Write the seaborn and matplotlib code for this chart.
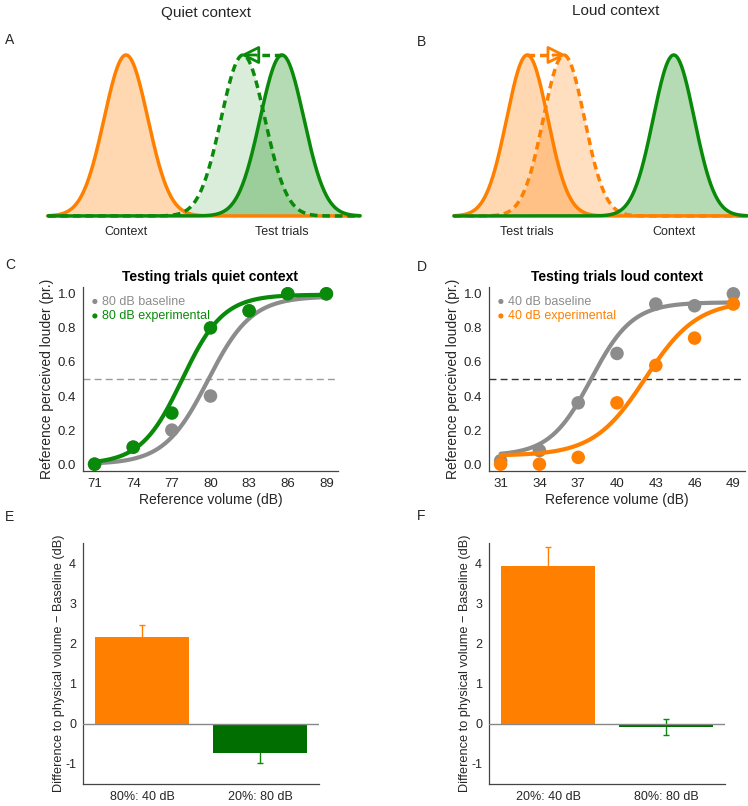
import numpy as np
import seaborn as sns
import matplotlib.pyplot as plt

# schematic distributions (A, B), centres in dB
quiet_context_mean = 40
quiet_test_mean = 80
quiet_shifted_mean = 70
loud_test_mean = 40
loud_shifted_mean = 50
loud_context_mean = 80
dist_sd = 5.6

# psychometric data (C, D)
quiet_volumes = [71, 74, 77, 80, 83, 86, 89]
quiet_baseline = [0.0, 0.1, 0.2, 0.4, 0.9, 1.0, 1.0]
quiet_experimental = [0.0, 0.1, 0.3, 0.8, 0.9, 1.0, 1.0]
loud_volumes = [31, 34, 37, 40, 43, 46, 49]
loud_baseline = [0.02, 0.08, 0.36, 0.65, 0.94, 0.93, 1.0]
loud_experimental = [0.0, 0.0, 0.04, 0.36, 0.58, 0.74, 0.94]

# fitted logistic curves: (lower, upper, midpoint, slope)
quiet_baseline_fit = (0.0, 0.985, 79.8, 1.7)
quiet_experimental_fit = (0.0, 0.995, 77.8, 1.6)
loud_baseline_fit = (0.05, 0.95, 38.0, 1.6)
loud_experimental_fit = (0.05, 0.96, 42.2, 2.0)

# shift relative to baseline (E, F)
quiet_conditions = ['80%: 40 dB', '20%: 80 dB']
quiet_shift = [2.15, -0.73]
quiet_sem = [0.30, 0.25]
loud_conditions = ['20%: 40 dB', '80%: 80 dB']
loud_shift = [3.92, -0.08]
loud_sem = [0.48, 0.20]

ORANGE = '#ff8000'
GREEN = '#0a8a0a'
DARK_GREEN = '#006e00'
GREY = '#8c8c8c'
TXT = '#262626'

sns.set_theme(style='white')
plt.rcParams['font.family'] = ['Liberation Sans', 'DejaVu Sans']
plt.rcParams['axes.unicode_minus'] = False

W, H = 748, 806
fig = plt.figure(figsize=(W / 100, H / 100), dpi=100)


def px_axes(left, top, right, bottom):
    return fig.add_axes([left / W, 1 - bottom / H, (right - left) / W, (bottom - top) / H])


def gauss(x, m):
    return np.exp(-0.5 * ((x - m) / dist_sd) ** 2)


def logistic(x, fit):
    lo, hi, mid, slope = fit
    return lo + (hi - lo) / (1 + np.exp(-(x - mid) / slope))


def schematic(ax, curves, tick_pos, tick_labels, arrow):
    xs = np.linspace(20, 100, 400)
    for m, color, dashed, alpha in curves:
        y = gauss(xs, m)
        ax.fill_between(xs, 0, y, color=color, alpha=alpha, lw=0)
        ls = (0, (2.2, 1.4)) if dashed else '-'
        ax.plot(xs, y, color=color, lw=2.5, ls=ls, clip_on=False)
    start, base, tip, color = arrow
    ax.plot([start, base], [1, 1], color=color, lw=2.5, ls=(0, (2.2, 1.4)))
    ax.annotate('', xy=(tip, 1), xytext=(base, 1),
                arrowprops=dict(arrowstyle='-|>,head_length=0.9,head_width=0.45',
                                fc='none', ec=color, lw=2, shrinkA=0, shrinkB=0))
    ax.set_xlim(20, 100)
    ax.set_ylim(-0.025, 1.062)
    ax.set_xticks(tick_pos)
    ax.set_xticklabels(tick_labels, fontsize=9, color=TXT)
    ax.tick_params(axis='x', length=0, pad=4)
    ax.set_yticks([])
    sns.despine(ax=ax, left=True, bottom=True)


def psychometric(ax, volumes, base, exp, base_fit, exp_fit, color, labels, title, guide):
    xs = np.linspace(volumes[0], volumes[-1], 200)
    ax.axhline(0.5, color=guide, lw=1, ls=(0, (5, 3)), zorder=1)
    sns.lineplot(x=xs, y=logistic(xs, base_fit), color=GREY, lw=3, ax=ax, zorder=2)
    sns.scatterplot(x=volumes, y=base, color=GREY, s=95, edgecolor='none', ax=ax,
                    zorder=3, label=labels[0])
    sns.lineplot(x=xs, y=logistic(xs, exp_fit), color=color, lw=3, ax=ax, zorder=4)
    sns.scatterplot(x=volumes, y=exp, color=color, s=95, edgecolor='none', ax=ax,
                    zorder=5, label=labels[1])
    ax.set_xlim(volumes[0] - 0.9, volumes[-1] + 0.9)
    ax.set_ylim(-0.04, 1.04)
    ax.set_xticks(volumes)
    ax.set_yticks([0, 0.2, 0.4, 0.6, 0.8, 1.0])
    ax.set_yticklabels(['0.0', '0.2', '0.4', '0.6', '0.8', '1.0'])
    ax.tick_params(direction='in', length=3, width=0.8, color='#444444',
                   labelsize=9.5, labelcolor=TXT, pad=5)
    ax.set_xlabel('Reference volume (dB)', fontsize=10, color=TXT, labelpad=2.5)
    ax.set_ylabel('Reference perceived louder (pr.)', fontsize=10, color=TXT)
    ax.yaxis.set_label_coords(-0.115, 0.5)
    ax.set_title(title, fontsize=10, fontweight='bold', color='black', pad=4)
    h, l = ax.get_legend_handles_labels()
    ax.legend(h, l, loc='upper left', frameon=False, fontsize=9, markerscale=0.38,
              handlelength=0.5, handletextpad=0.3, labelspacing=0.2,
              borderaxespad=0.35, borderpad=0.35, labelcolor=[GREY, color])
    sns.despine(ax=ax)
    for s in ['left', 'bottom']:
        ax.spines[s].set_color('#444444')
        ax.spines[s].set_linewidth(0.9)


def shift_bars(ax, conds, vals, sems, colors):
    for i in range(len(vals)):
        ax.errorbar(i, vals[i], yerr=sems[i], fmt='none', ecolor=colors[i] if i == 0 else GREEN,
                    elinewidth=1, capsize=2.5, capthick=1, zorder=2)
    sns.barplot(x=conds, y=vals, hue=conds, palette=colors, legend=False, width=0.8,
                saturation=1, errorbar=None, linewidth=0, ax=ax, zorder=3)
    ax.axhline(0, color='#888888', lw=1, zorder=4)
    ax.set_xlim(-0.5, 1.5)
    ax.set_ylim(-1.5, 4.5)
    ax.set_yticks([-1, 0, 1, 2, 3, 4])
    ax.tick_params(direction='out', length=3, width=0.8, color='#444444',
                   labelsize=9, labelcolor=TXT, pad=2)
    ax.set_ylabel('Difference to physical volume \u2212 Baseline (dB)', fontsize=9.2, color=TXT)
    ax.yaxis.set_label_coords(-0.075, 0.5)
    ax.set_xlabel('')
    sns.despine(ax=ax)
    for s in ['left', 'bottom']:
        ax.spines[s].set_color('#444444')
        ax.spines[s].set_linewidth(0.9)


# A: quiet context schematic
axA = px_axes(48, 45, 360, 220)
schematic(axA,
          [(quiet_context_mean, ORANGE, False, 0.3),
           (quiet_test_mean, GREEN, False, 0.3),
           (quiet_shifted_mean, GREEN, True, 0.15)],
          [quiet_context_mean, quiet_test_mean], ['Context', 'Test trials'],
          (quiet_test_mean, 73.3, 69.4, GREEN))

# B: loud context schematic
axB = px_axes(454, 45, 747, 220)
schematic(axB,
          [(loud_test_mean, ORANGE, False, 0.3),
           (loud_shifted_mean, ORANGE, True, 0.25),
           (loud_context_mean, GREEN, False, 0.3)],
          [loud_test_mean, loud_context_mean], ['Test trials', 'Context'],
          (loud_test_mean, 47.0, 50.6, ORANGE))

# C / D psychometric curves
axC = px_axes(83, 287, 338, 471)
psychometric(axC, quiet_volumes, quiet_baseline, quiet_experimental,
             quiet_baseline_fit, quiet_experimental_fit, GREEN,
             ['80 dB baseline', '80 dB experimental'],
             'Testing trials quiet context', '#9a9a9a')
axD = px_axes(489, 287, 745, 471)
psychometric(axD, loud_volumes, loud_baseline, loud_experimental,
             loud_baseline_fit, loud_experimental_fit, ORANGE,
             ['40 dB baseline', '40 dB experimental'],
             'Testing trials loud context', '#333333')

# E / F bar charts
axE = px_axes(83, 543, 319, 784)
shift_bars(axE, quiet_conditions, quiet_shift, quiet_sem, [ORANGE, DARK_GREEN])
axF = px_axes(489, 543, 725, 784)
shift_bars(axF, loud_conditions, loud_shift, loud_sem, [ORANGE, DARK_GREEN])

# headers and panel letters
fig.text(206 / W, 1 - 13 / H, 'Quiet context', ha='center', va='center', fontsize=11, color=TXT)
fig.text(616 / W, 1 - 11 / H, 'Loud context', ha='center', va='center', fontsize=11, color=TXT)
for letter, x, y in [('A', 5, 40), ('B', 417, 42), ('C', 5, 265),
                     ('D', 417, 267), ('E', 5, 517), ('F', 417, 516)]:
    fig.text(x / W, 1 - y / H, letter, ha='left', va='center', fontsize=10, color=TXT)

fig.savefig('out.png', dpi=100)
